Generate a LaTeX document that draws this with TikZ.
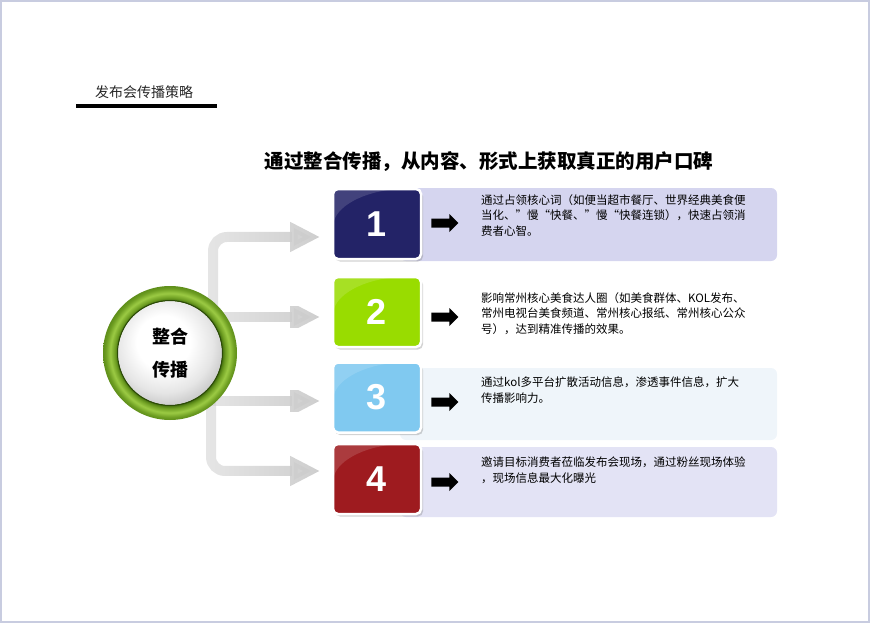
\documentclass[tikz,border=0pt]{standalone}
\usepackage{fontspec}
\setmainfont{Liberation Sans}
\newfontfamily\cjk{Noto Sans CJK SC}
\usetikzlibrary{positioning,shapes.arrows,shadows,fadings,arrows.meta}

\definecolor{navybox}{HTML}{232367}
\definecolor{limebox}{HTML}{99DC00}
\definecolor{skybox}{HTML}{80C9F0}
\definecolor{redbox}{HTML}{9E1B1F}
\definecolor{panelA}{HTML}{D5D5EF}
\definecolor{panelC}{HTML}{EFF5FA}
\definecolor{panelD}{HTML}{E3E3F5}
\definecolor{ringdark}{HTML}{3F6A0C}
\definecolor{ringmid}{HTML}{6E9E22}
\definecolor{ringlight}{HTML}{9CCB44}
\definecolor{ringedge}{HTML}{5E8E1A}
\definecolor{framecol}{HTML}{C8CCE0}
\definecolor{linkgray}{HTML}{CDCDCD}

\pgfdeclarelayer{back}
\pgfsetlayers{back,main}

\pgfdeclareradialshading{hubring}{\pgfpoint{0bp}{0bp}}{color(0bp)=(ringdark); color(19.4bp)=(ringdark); color(20.6bp)=(ringmid); color(22.3bp)=(ringlight); color(24bp)=(ringmid); color(25bp)=(ringedge); color(50bp)=(ringedge)}
\pgfdeclareradialshading{hubball}{\pgfpoint{-3bp}{5bp}}{color(0bp)=(white); color(10bp)=(white); color(18bp)=(gray!20); color(24bp)=(gray!48); color(28bp)=(gray!62); color(50bp)=(gray!62)}
\tikzfading[name=fadelink, left color=transparent!65, right color=transparent!0]

\tikzset{
  hub/.style={circle, minimum size=134pt, inner sep=0pt, shade, shading=hubring,
    align=center, font=\cjk\bfseries\fontsize{18}{33}\selectfont,
    path picture={
      \shade[shading=hubball] (path picture bounding box.center) circle (52pt);
      \draw[ringdark!70!black, line width=1pt] (path picture bounding box.center) circle (52.5pt);
    }},
  numbox/.style={rounded corners=5pt, draw=white, line width=2.5pt,
    minimum width=88pt, minimum height=70pt, text=white,
    font=\fontsize{36}{36}\selectfont\bfseries,
    drop shadow={shadow xshift=2pt, shadow yshift=-2.5pt, opacity=.35},
    path picture={
      \fill[white, opacity=.14] (path picture bounding box.north west) -- ++(70,0)
        .. controls +(-40,2) and +(2,-22) .. ++(-70,40) -- cycle;
    }},
  panel/.style={rounded corners=6pt},
  pointer/.style={single arrow, fill=black, minimum height=27pt, inner xsep=0pt,
    inner ysep=4.3pt, single arrow head extend=4.5pt},
  link/.style={draw=linkgray, line width=10pt, rounded corners=14pt,
    -{Triangle[width=28pt,length=30pt]}, path fading=fadelink, fit fading=true},
  blurb/.style={anchor=north west, inner sep=0pt, align=left,
    font=\cjk\fontsize{11.5}{15.5}\selectfont}
}

\begin{document}
\begin{tikzpicture}[x=1pt,y=-1pt]
\useasboundingbox (0,0) rectangle (870,623);
\draw[framecol, line width=2pt] (1,1) rectangle (869,622);

% heading
\node[font=\cjk\fontsize{14}{14}\selectfont, text=black!85] (tag) at (144,92) {发布会传播策略};
\draw[line width=4.5pt] (76,106) -- (217,106);
\node[font=\cjk\bfseries\fontsize{19.5}{20}\selectfont] (headline) at (489,162)
  {通过整合传播，从内容、形式上获取真正的用户口碑};

% text panels
\fill[panelA, panel] (400,188) rectangle (777,261);
\fill[panelC, panel] (400,368) rectangle (777,440);
\fill[panelD, panel] (400,447) rectangle (777,517);

% hub
\node[hub] (hub) at (170,353) {整合\\传播};

% number boxes
\node[numbox, fill=navybox] (n1) at (377,224) {1};
\node[numbox, fill=limebox] (n2) at (377,312) {2};
\node[numbox, fill=skybox] (n3) at (377,397.5) {3};
\node[numbox, fill=redbox] (n4) at (377,479) {4};

\node[pointer, right=9pt of n1, yshift=1pt] (p1) {};
\node[pointer, right=9pt of n2, yshift=-5pt] (p2) {};
\node[pointer, right=9pt of n3, yshift=-4.5pt] (p3) {};
\node[pointer, right=9pt of n4, yshift=-3pt] (p4) {};

% link ends
\coordinate (t1) at (320,237);
\coordinate (t2) at (320,317);
\coordinate (t3) at (320,401);
\coordinate (t4) at (320,471);

\begin{pgfonlayer}{back}
\draw[link] (hub.center) ++(43,0) |- (t1);
\draw[link] (hub.center |- t2) -- (t2);
\draw[link] (hub.center |- t3) -- (t3);
\draw[link] (hub.center) ++(41,0) |- (t4);
\end{pgfonlayer}

% blurbs
\node[blurb] (b1) at (481,194) {通过占领核心词（如便当超市餐厅、世界经典美食便\\当化、”慢“快餐、”慢“快餐连锁），快速占领消\\费者心智。};
\node[blurb] (b2) at (481,292) {影响常州核心美食达人圈（如美食群体、KOL发布、\\常州电视台美食频道、常州核心报纸、常州核心公众\\号），达到精准传播的效果。};
\node[blurb] (b3) at (481,377) {通过kol多平台扩散活动信息，渗透事件信息，扩大\\传播影响力。};
\node[blurb] (b4) at (481,457) {邀请目标消费者莅临发布会现场，通过粉丝现场体验\\，现场信息最大化曝光};
\end{tikzpicture}
\end{document}
